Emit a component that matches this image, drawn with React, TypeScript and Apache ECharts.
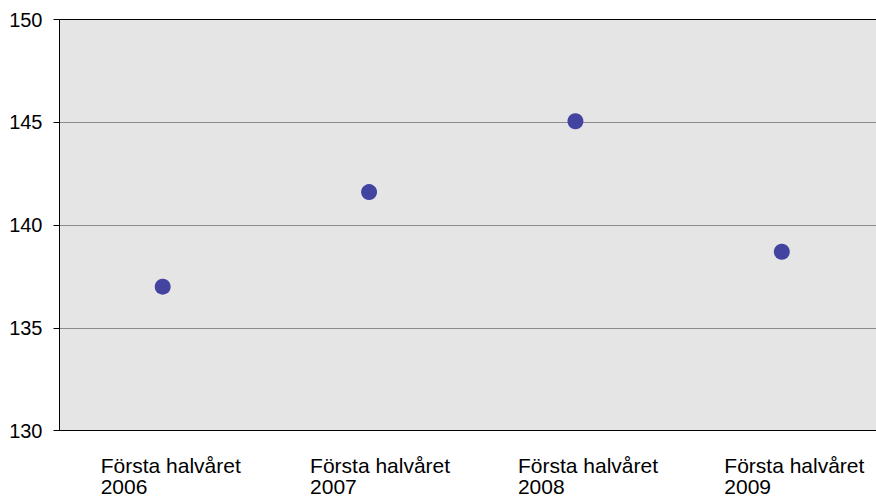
import React, { useEffect, useRef } from "react";
import * as echarts from "echarts";

const categories = ["Första halvåret\n2006", "Första halvåret\n2007", "Första halvåret\n2008", "Första halvåret\n2009"];
const values = [137.0, 141.6, 145.05, 138.7];
const yTicks = [130, 135, 140, 145, 150];

const labelBoxWidths = [124, 118, 115, 115];

export default function App() {
  const ref = useRef<HTMLDivElement>(null);
  useEffect(() => {
    if (!ref.current) return;
    const chart = echarts.init(ref.current, null, { renderer: "svg" });
    const font = "'Liberation Sans', Arial, sans-serif";
    const rich: Record<string, any> = {};
    labelBoxWidths.forEach((w, i) => {
      rich["a" + i] = {
        width: w,
        align: "left",
        fontSize: 21,
        lineHeight: 21,
        fontFamily: font,
        color: "#000",
      };
    });
    chart.setOption({
      animation: false,
      backgroundColor: "#fff",
      grid: {
        left: 59.5,
        right: 0,
        top: 19.5,
        bottom: 66.5,
        show: true,
        backgroundColor: "#e5e5e5",
        borderWidth: 0,
      },
      xAxis: [
        {
          type: "category",
          data: categories,
          boundaryGap: true,
          axisLine: { show: true, lineStyle: { color: "#000", width: 1 } },
          axisTick: { show: false },
          axisLabel: {
            interval: 0,
            margin: 24,
            formatter: (v: string, i: number) =>
              v
                .split("\n")
                .map((line) => `{a${i}|${line}}`)
                .join("\n"),
            rich,
          },
          splitLine: { show: false },
        },
        {
          type: "category",
          position: "top",
          data: categories,
          axisLine: { show: true, lineStyle: { color: "#000", width: 1 } },
          axisTick: { show: false },
          axisLabel: { show: false },
          splitLine: { show: false },
        },
      ],
      yAxis: {
        type: "value",
        min: yTicks[0],
        max: yTicks[yTicks.length - 1],
        interval: 5,
        axisLine: { show: true, lineStyle: { color: "#000", width: 1 } },
        axisTick: { show: true, inside: false, length: 6, lineStyle: { color: "#000" } },
        axisLabel: {
          margin: 17,
          fontSize: 20,
          fontFamily: font,
          color: "#000",
        },
        splitLine: { show: true, lineStyle: { color: "#8c8c8c", width: 1 } },
      },
      series: [
        {
          type: "scatter",
          xAxisIndex: 0,
          data: values,
          symbol: "circle",
          symbolSize: 16,
          itemStyle: { color: "#4343a0", opacity: 1 },
        },
      ],
    });
    return () => chart.dispose();
  }, []);
  return (
    <div
      style={{ position: "absolute", left: 0, top: 0, width: 876, height: 497, overflow: "hidden" }}
    >
      <div ref={ref} style={{ width: 885, height: 497 }} />
    </div>
  );
}
